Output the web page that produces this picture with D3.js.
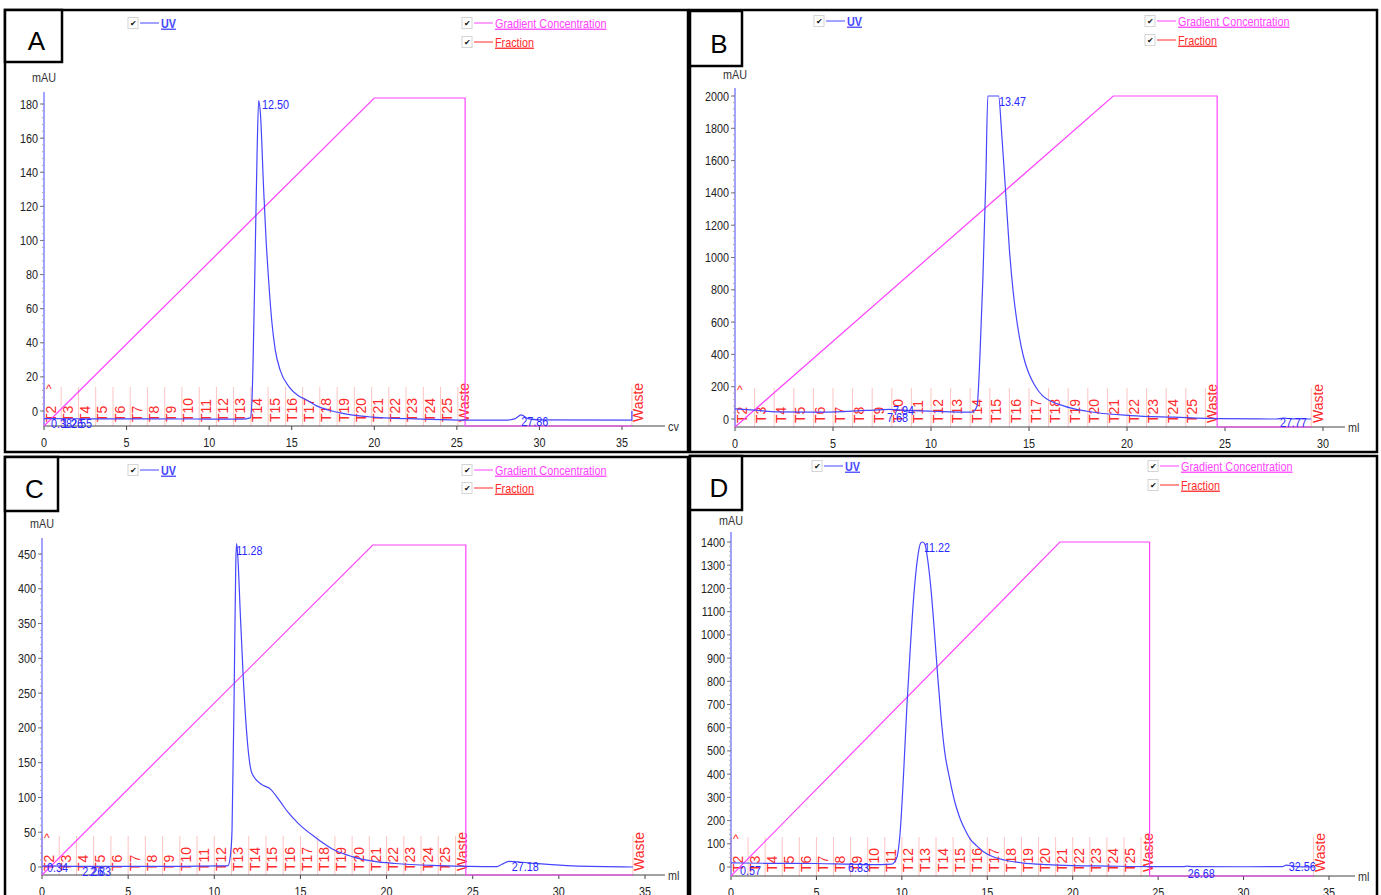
<!DOCTYPE html>
<html>
<head>
<meta charset="utf-8">
<script src="https://cdn.jsdelivr.net/npm/d3@7"></script>
<style>
  body { margin: 0; background: #fff; }
  text { font-family: "Liberation Sans", Arial, sans-serif; }
</style>
</head>
<body>
<script>
// ---- data ----
const fractionNames = ["T2","T3","T4","T5","T6","T7","T8","T9","T10","T11","T12","T13","T14",
  "T15","T16","T17","T18","T19","T20","T21","T22","T23","T24","T25","Waste","Waste"];

// fraction boundaries (x units), last one is the end-of-run waste mark
const fracA = [0,1.04,2.09,3.13,4.18,5.22,6.26,7.31,8.35,9.40,10.44,11.48,12.53,13.57,14.62,
  15.66,16.70,17.75,18.79,19.84,20.88,21.92,22.97,24.01,25.06,35.6];
const fracB = [0,1,2,3,4,5,6,7,8,9,10,11,12,13,14,15,16,17,18,19,20,21,22,23,24,29.4];
const fracC = [0,1,2,3,4,5,6,7,8,9,10,11,12,13,14,15,16,17,18,19,20,21,22,23,24,34.3];
const fracD = [0,1,2,3,4,5,6,7,8,9,10,11,12,13,14,15,16,17,18,19,20,21,22,23,24,34.1];

// UV traces [x, mAU]
const uvA = [[0,-4.5],[0.5,-4.5],[3,-4.6],[6,-4.6],[9,-4.7],[12,-4.8],[12.5,-4],[12.6,8],[12.76,77],
  [12.9,150],[13.0,182],[13.1,175],[13.3,130],[13.45,100],[13.6,77],[13.8,52],[14.0,36],[14.3,24],
  [14.85,14],[15.4,9],[15.9,6.5],[16.5,3],[17.2,0.6],[18.0,-1.2],[18.6,-2.3],[19.9,-3.6],[21,-4.2],
  [22.5,-4.6],[25.5,-5.3],[28,-5.3],[28.5,-4.6],[28.9,-2.3],[29.3,-4.5],[30,-5.2],[35.6,-5.4],[35.6,0]];
const uvB = [[0,63],[1,55],[2.2,44],[4.5,42],[6.7,53],[7.9,59],[8.5,55],[10.1,48],[12.1,42],[12.35,80],
  [12.5,400],[12.65,880],[12.8,1500],[12.9,2000],[13.45,2000],[13.6,1780],[13.8,1420],[14.0,1050],
  [14.2,780],[14.4,590],[14.6,450],[14.8,350],[15.0,280],[15.26,215],[15.7,143],[16.8,80],[17.95,48],
  [20.2,21],[22.4,11],[24.7,2],[27.6,0],[28.0,5],[28.4,1],[29.4,0]];
const uvC = [[0,1],[0.3,1.5],[2,1],[5,1],[8,1],[10.5,1.5],[10.8,2],[10.95,20],[11.03,53],[11.16,264],
  [11.25,440],[11.3,465],[11.38,440],[11.5,370],[11.67,278],[11.93,178],[12.18,135],[12.67,120],
  [13.26,112],[13.8,95],[14.3,78],[14.9,62],[15.9,42],[17.0,24],[18.0,15],[19.3,8],[20.5,5],[23.1,2],
  [26.4,0.5],[26.7,4],[27.1,8],[28.2,6],[30.8,1.5],[34.3,0]];
const uvD = [[0,18],[2,16],[5,15],[7,12],[8.8,10],[9.4,12],[9.7,40],[9.9,150],[10.1,400],[10.3,700],
  [10.5,950],[10.7,1170],[10.9,1320],[11.1,1395],[11.22,1400],[11.35,1390],[11.5,1330],[11.7,1200],
  [11.9,1020],[12.1,820],[12.3,640],[12.5,500],[12.8,380],[13.1,280],[13.4,210],[13.7,160],[14.0,120],
  [14.4,90],[14.8,65],[15.3,45],[16,30],[17,18],[18.5,10],[20,6],[22,4],[24.6,2],[26.5,2],[26.7,4],
  [27,2],[30,1],[32.3,2],[32.5,8],[33,3],[34.1,0]];

// gradient concentration [x, %]
const gradA = [[0,0],[20,100],[25.5,100],[25.5,0],[35.6,0]];
const gradB = [[0,0],[19.3,100],[24.6,100],[24.6,0],[29.4,0]];
const gradC = [[0,0],[19.2,100],[24.6,100],[24.6,0],[34.3,0]];
const gradD = [[0,0],[19.25,100],[24.5,100],[24.5,0],[34.1,0]];

// peak retention labels [text, x, mAU]
const peaksA = [["12.50",13.2,180],["0.38",0.42,-7.6],["1.26",1.09,-7.6],["2.55",1.63,-7.6],["27.86",28.9,-5.9]];
const peaksB = [["13.47",13.47,1963],["7.94",8.06,51],["7.68",7.76,8],["27.77",27.8,-23]];
const peaksC = [["11.28",11.28,455],["0.34",0.29,-1.4],["2.26",2.33,-7],["2.83",2.79,-7],["27.18",27.27,1.4]];
const peaksD = [["11.22",11.29,1375],["0.57",0.53,-13],["6.83",6.85,-4],["26.68",26.74,-30],["32.56",32.65,4]];

const xTicks35 = [0,5,10,15,20,25,30,35];
const xTicks30 = [0,5,10,15,20,25,30];
const yTicksA = [0,20,40,60,80,100,120,140,160,180];
const yTicksB = [0,200,400,600,800,1000,1200,1400,1600,1800,2000];
const yTicksC = [0,50,100,150,200,250,300,350,400,450];
const yTicksD = [0,100,200,300,400,500,600,700,800,900,1000,1100,1200,1300,1400];

// ---- layout of the four panels ----
const panels = [
  {letter:"A", frame:[5,10,688,452], box:[5,10,57,52], xd:[0,35], xr:[44,622], yd:[0,180], yr:[411,104],
   axisY:426, axisEnd:665, yTop:92, gradTop:98, unit:"cv", leg:[23,42], uvX:128, grX:462, mau:78,
   uv:uvA, grad:gradA, frac:fracA, peaks:peaksA, xt:xTicks35, yt:yTicksA},
  {letter:"B", frame:[690,10,1377,452], box:[690,11,52,55], xd:[0,30], xr:[735,1323], yd:[0,2000], yr:[419,96],
   axisY:427, axisEnd:1345, yTop:88, gradTop:96, unit:"ml", leg:[21,40], uvX:814, grX:1145, mau:75,
   uv:uvB, grad:gradB, frac:fracB, peaks:peaksB, xt:xTicks30, yt:yTicksB},
  {letter:"C", frame:[5,457,688,897], box:[5,457,53,54], xd:[0,35], xr:[42,645], yd:[0,450], yr:[867,554],
   axisY:875, axisEnd:665, yTop:538, gradTop:545, unit:"ml", leg:[470,488], uvX:128, grX:462, mau:524,
   uv:uvC, grad:gradC, frac:fracC, peaks:peaksC, xt:xTicks35, yt:yTicksC},
  {letter:"D", frame:[690,456,1377,897], box:[690,456,52,54], xd:[0,35], xr:[731,1329], yd:[0,1400], yr:[867,542],
   axisY:876, axisEnd:1355, yTop:532, gradTop:542, unit:"ml", leg:[466,485], uvX:812, grX:1148, mau:521,
   uv:uvD, grad:gradD, frac:fracD, peaks:peaksD, xt:xTicks35, yt:yTicksD}
];

const UV = "#4646ff", GRAD = "#ff44ff", FRAC = "#ff2a2a", FRACLINE = "#ffc4c4";
const NARROW = 0.83; // the chart software uses a narrow sans face

const svg = d3.select("body").append("svg")
  .attr("width", 1381).attr("height", 895);

// narrow text: Liberation Sans squeezed horizontally
const nt = (x, y) => `translate(${x},${y}) scale(${NARROW},1)`;

function legendItem(g, x, y, color, label, bold) {
  g.append("rect").attr("x", x).attr("y", y - 5.5).attr("width", 10).attr("height", 11)
    .attr("fill", "#fff").attr("stroke", "#d4d4d4");
  g.append("text").attr("x", x + 5).attr("y", y + 3).attr("text-anchor", "middle")
    .attr("font-size", 8).attr("fill", "#111").text("✔");
  g.append("line").attr("x1", x + 12).attr("x2", x + 31).attr("y1", y).attr("y2", y)
    .attr("stroke", color).attr("stroke-width", 1);
  g.append("text").attr("transform", nt(x + 33, y + 4.5)).attr("font-size", 13)
    .attr("font-weight", bold ? "bold" : "normal").attr("fill", color)
    .style("text-decoration", "underline").text(label);
}

function drawPanel(p) {
  const g = svg.append("g");
  const x = d3.scaleLinear().domain(p.xd).range(p.xr);
  const y = d3.scaleLinear().domain(p.yd).range(p.yr);
  const yg = d3.scaleLinear().domain([0, 100]).range([p.axisY, p.gradTop]);
  const x0 = x(0);

  // frame and panel letter
  const [fx0, fy0, fx1, fy1] = p.frame;
  g.append("rect").attr("x", fx0).attr("y", fy0).attr("width", fx1 - fx0).attr("height", fy1 - fy0)
    .attr("fill", "none").attr("stroke", "#000").attr("stroke-width", 2.5);
  g.append("rect").attr("x", p.box[0]).attr("y", p.box[1]).attr("width", p.box[2]).attr("height", p.box[3])
    .attr("fill", "#fff").attr("stroke", "#000").attr("stroke-width", 2.5);
  g.append("text").attr("x", p.box[0] + p.box[2] / 2 + 3).attr("y", p.box[1] + p.box[3] / 2 + 14)
    .attr("text-anchor", "middle").attr("font-size", 26).text(p.letter);

  // legends
  legendItem(g, p.uvX, p.leg[0], UV, "UV", true);
  legendItem(g, p.grX, p.leg[0], GRAD, "Gradient Concentration", false);
  legendItem(g, p.grX, p.leg[1], FRAC, "Fraction", false);

  // fractions
  const fr = g.append("g");
  p.frac.forEach((v, i) => {
    fr.append("line").attr("x1", x(v)).attr("x2", x(v)).attr("y1", p.axisY).attr("y2", p.axisY - 39)
      .attr("stroke", FRACLINE).attr("stroke-width", 1);
    fr.append("text").attr("transform", `translate(${x(v) + 11.5},${p.axisY - 4}) rotate(-90)`)
      .attr("font-size", 14).attr("fill", FRAC).text(fractionNames[i]);
  });
  fr.append("text").attr("x", x0 + 2).attr("y", p.axisY - 33).attr("font-size", 12)
    .attr("fill", FRAC).text("^");

  // y axis
  const minor = (p.yt[1] - p.yt[0]) / 5;
  const minorTicks = d3.range(p.yd[0], p.yd[1] + minor / 2, minor);
  g.append("line").attr("x1", x0).attr("x2", x0).attr("y1", p.axisY).attr("y2", p.yTop)
    .attr("stroke", UV).attr("stroke-width", 1);
  g.selectAll(null).data(minorTicks).join("line")
    .attr("x1", x0 - 2).attr("x2", x0).attr("y1", d => y(d)).attr("y2", d => y(d))
    .attr("stroke", "#aaa");
  g.selectAll(null).data(p.yt).join("line")
    .attr("x1", x0 - 4).attr("x2", x0).attr("y1", d => y(d)).attr("y2", d => y(d))
    .attr("stroke", "#777");
  g.selectAll(null).data(p.yt).join("text")
    .attr("transform", d => nt(x0 - 6, y(d) + 4.5)).attr("text-anchor", "end")
    .attr("font-size", 13).attr("fill", "#222").text(d => d);
  g.append("text").attr("transform", nt(x0, p.mau + 4)).attr("text-anchor", "middle")
    .attr("font-size", 13).attr("fill", "#333").text("mAU");

  // x axis
  g.append("line").attr("x1", x0).attr("x2", p.axisEnd).attr("y1", p.axisY).attr("y2", p.axisY)
    .attr("stroke", "#444").attr("stroke-width", 1);
  g.selectAll(null).data(p.xt).join("line")
    .attr("x1", d => x(d)).attr("x2", d => x(d)).attr("y1", p.axisY).attr("y2", p.axisY + 4)
    .attr("stroke", "#444");
  g.selectAll(null).data(p.xt).join("text")
    .attr("transform", d => nt(x(d), p.axisY + 21)).attr("text-anchor", "middle")
    .attr("font-size", 13).attr("fill", "#222").text(d => d);
  g.append("text").attr("transform", nt(p.axisEnd + 3, p.axisY + 5))
    .attr("font-size", 13).attr("fill", "#333").text(p.unit);

  // gradient
  g.append("path").datum(p.grad)
    .attr("d", d3.line().x(d => x(d[0])).y(d => yg(d[1])))
    .attr("fill", "none").attr("stroke", GRAD).attr("stroke-width", 1.2);

  // UV trace
  g.append("path").datum(p.uv)
    .attr("d", d3.line().curve(d3.curveMonotoneX).x(d => x(d[0])).y(d => y(d[1])))
    .attr("fill", "none").attr("stroke", UV).attr("stroke-width", 1.2);

  // peak labels
  g.selectAll(null).data(p.peaks).join("text")
    .attr("transform", d => nt(x(d[1]), y(d[2]) + 4.5))
    .attr("font-size", 13).attr("fill", "#2828ff").text(d => d[0]);
}

panels.forEach(drawPanel);
</script>
</body>
</html>
